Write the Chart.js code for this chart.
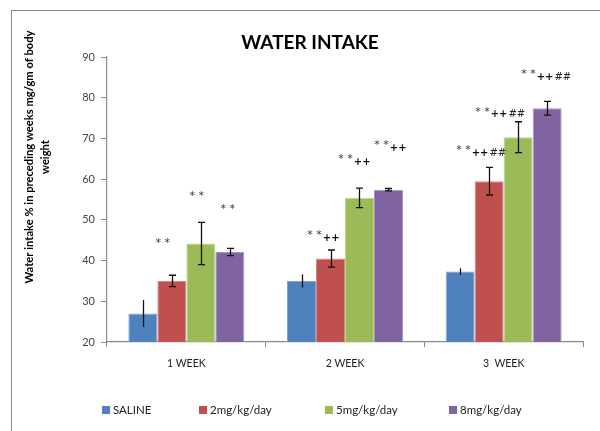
<!DOCTYPE html>
<html>
<head>
<meta charset="utf-8">
<script src="https://cdn.jsdelivr.net/npm/chart.js@4.4.1/dist/chart.umd.min.js"></script>
<style>
  html, body { margin: 0; padding: 0; background: #fff; }
  #wrap { position: relative; width: 600px; height: 431px; overflow: hidden; }
  #frame { position: absolute; left: 11px; top: 10px; width: 700px; height: 500px;
           border-left: 1.5px solid #8a8a8a; border-top: 1.5px solid #8a8a8a; pointer-events: none; }
  #legend { position: absolute; top: 403px; left: 102px; font: 11.5px Lato, sans-serif; color: #222; white-space: nowrap; }
  #legend .item { display: inline-block; }
  #legend .sw { display: inline-block; width: 8px; height: 8px; margin-right: 3px; vertical-align: 0px; }
</style>
</head>
<body>
<div id="wrap">
  <canvas id="c" width="600" height="431"></canvas>
  <div id="frame"></div>
  <div id="legend"></div>
</div>
<script>
// Weekly water intake per treatment group
const weeks = ['1 WEEK', '2 WEEK', '3  WEEK'];
const groups = ['SALINE', '2mg/kg/day', '5mg/kg/day', '8mg/kg/day'];

const saline = [27.0, 35.0, 37.3];
const dose2  = [35.0, 40.5, 59.5];
const dose5  = [44.2, 55.4, 70.3];
const dose8  = [42.1, 57.4, 77.4];

const salineErr = [3.3, 1.6, 0.8];
const dose2Err  = [1.4, 2.1, 3.4];
const dose5Err  = [5.2, 2.4, 3.8];
const dose8Err  = [0.9, 0.3, 1.7];

const salineSig = ['', '', ''];
const dose2Sig  = ['**', '**++', '**++##'];
const dose5Sig  = ['**', '**++', '**++##'];
const dose8Sig  = ['**', '**++', '**++##'];

const yTicks = [20, 30, 40, 50, 60, 70, 80, 90];

// styling
const fills   = ['#4F81BD', '#C0504D', '#9BBB59', '#8064A2'];
const edges   = ['#7ea3d3', '#d88784', '#bcd58e', '#a892c2'];
const capSize = [0, 7, 7, 7];
// where each significance mark sits: px above the whisker top, px sideways from bar centre
const sigLift  = [[0, 0, 0], [32, 15, 17], [26, 29, 10], [39, 43, 27]];
const sigShift = [[0, 0, 0], [-9, -7, -8], [-4, -5, -18], [-2, 2, -1]];

const values = [saline, dose2, dose5, dose8];
const errors = [salineErr, dose2Err, dose5Err, dose8Err];
const sigs   = [salineSig, dose2Sig, dose5Sig, dose8Sig];

const datasets = groups.map((g, i) => ({
  label: g,
  data: values[i],
  errors: errors[i],
  sig: sigs[i],
  backgroundColor: fills[i],
  borderColor: edges[i],
  borderWidth: 1,
  categoryPercentage: 0.731,
  barPercentage: 1.0
}));

const FONT = 'Lato, sans-serif';
const MARK_FONT = '"DejaVu Sans", sans-serif';

const errorBars = {
  id: 'errorBars',
  afterDatasetsDraw(chart) {
    const ctx = chart.ctx;
    const y = chart.scales.y;
    ctx.save();
    chart.data.datasets.forEach((ds, i) => {
      const meta = chart.getDatasetMeta(i);
      meta.data.forEach((bar, j) => {
        const v = ds.data[j], e = ds.errors[j];
        const yt = y.getPixelForValue(v + e);
        const yb = y.getPixelForValue(v - e);
        const x = Math.round(bar.x) + 0.5;
        ctx.strokeStyle = '#111';
        ctx.lineWidth = 1.3;
        ctx.beginPath();
        ctx.moveTo(x, yt); ctx.lineTo(x, yb);
        const c = capSize[i] / 2;
        if (c > 0) {
          ctx.moveTo(x - c, yt); ctx.lineTo(x + c, yt);
          ctx.moveTo(x - c, yb); ctx.lineTo(x + c, yb);
        }
        ctx.stroke();

        // significance marks: asterisks, then plus signs, then hashes
        const s = ds.sig[j];
        if (!s) return;
        const parts = [
          { t: s.replace(/[^*]/g, '').split('').join(' '), f: '11px ' + MARK_FONT, c: '#333', dy: 0 },
          { t: s.replace(/[^+]/g, ''), f: 'bold 10px ' + MARK_FONT, c: '#111', dy: 3 },
          { t: s.replace(/[^#]/g, ''), f: '10px ' + MARK_FONT, c: '#222', dy: 3 }
        ].filter(p => p.t);
        let total = 0;
        parts.forEach(p => { ctx.font = p.f; p.w = ctx.measureText(p.t).width; total += p.w; });
        total += 1 * (parts.length - 1);
        const cx = bar.x + sigShift[i][j];
        const cy = yt - sigLift[i][j];
        let lx = cx - total / 2;
        ctx.textAlign = 'left';
        ctx.textBaseline = 'middle';
        parts.forEach(p => {
          ctx.font = p.f; ctx.fillStyle = p.c;
          ctx.fillText(p.t, lx, cy + p.dy);
          lx += p.w + 1;
        });
      });
    });
    ctx.restore();
  }
};

const titles = {
  id: 'titles',
  afterDraw(chart) {
    const ctx = chart.ctx;
    ctx.save();
    ctx.fillStyle = '#000';
    ctx.textAlign = 'center';
    ctx.textBaseline = 'middle';
    ctx.font = 'bold 19px ' + FONT;
    ctx.fillText('WATER INTAKE', 310, 43);
    ctx.translate(0, 157);
    ctx.rotate(-Math.PI / 2);
    ctx.font = 'bold 11.2px ' + FONT;
    ctx.fillText('Water intake % in preceding weeks mg/gm of body', 0, 29);
    ctx.fillText('weight', 0, 45);
    ctx.restore();
  }
};

new Chart(document.getElementById('c'), {
  type: 'bar',
  data: { labels: weeks, datasets },
  options: {
    responsive: false,
    animation: false,
    devicePixelRatio: 1,
    layout: { padding: { left: 0, right: 17, top: 57, bottom: 0 } },
    plugins: { legend: { display: false }, title: { display: false }, tooltip: { enabled: false } },
    scales: {
      x: {
        afterFit(s) { s.height = 89; },
        grid: { offset: true, drawOnChartArea: false, drawTicks: true, tickLength: 5, color: '#8a8a8a' },
        border: { display: true, color: '#8a8a8a', width: 1.2 },
        ticks: { font: { family: FONT, size: 10.5 }, color: '#222', padding: 10 }
      },
      y: {
        min: 20, max: 90,
        afterFit(s) { s.width = 107; },
        afterBuildTicks(s) { s.ticks = yTicks.map(v => ({ value: v })); },
        grid: { drawOnChartArea: false, drawTicks: true, tickLength: 6, color: '#8a8a8a' },
        border: { display: true, color: '#8a8a8a', width: 1.2 },
        ticks: { font: { family: FONT, size: 11 }, color: '#444', padding: 6 }
      }
    }
  },
  plugins: [errorBars, titles]
});

// legend built from the same group list and fills
const legend = document.getElementById('legend');
const itemWidths = [97, 126, 124, 90];
groups.forEach((g, i) => {
  const it = document.createElement('span');
  it.className = 'item';
  it.style.width = itemWidths[i] + 'px';
  const sw = document.createElement('span');
  sw.className = 'sw';
  sw.style.background = fills[i];
  it.appendChild(sw);
  it.appendChild(document.createTextNode(g));
  legend.appendChild(it);
});
</script>
</body>
</html>
